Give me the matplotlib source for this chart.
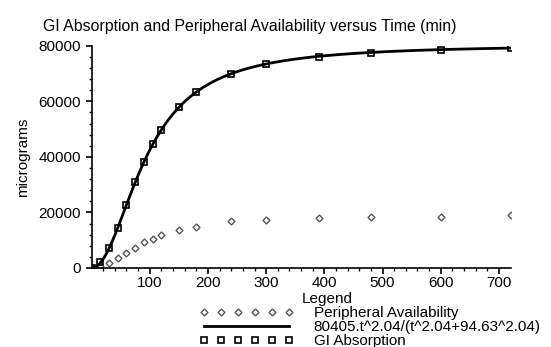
import numpy as np
import matplotlib.pyplot as plt
from matplotlib.lines import Line2D

plt.rcParams['font.family'] = ['Liberation Sans', 'DejaVu Sans']

# sample times (min)
t_gi = [0, 15, 30, 45, 60, 75, 90, 105, 120, 150, 180, 240, 300, 390, 480, 600, 720]
gi_absorption = [0, 2000, 7200, 14500, 22500, 30800, 38200, 44500, 49800,
                 57800, 63300, 69800, 73300, 76000, 77500, 78500, 79000]

t_pa = [0, 15, 30, 45, 60, 75, 90, 105, 120, 150, 180, 240, 300, 390, 480, 600, 720]
peripheral = [0, 700, 1900, 3500, 5500, 7300, 9250, 10450, 11800,
              13600, 14900, 16800, 17200, 18000, 18500, 18500, 19100]

# fitted Hill curve shown in the legend
vmax, n_hill, k50 = 80405, 2.04, 94.63
fit_label = "80405.t^2.04/(t^2.04+94.63^2.04)"

fig = plt.figure(figsize=(5.51, 3.47), dpi=100)
ax = fig.add_axes([0.1662, 0.2277, 0.7605, 0.6406])

tt = np.linspace(0, 720, 400)
fit = vmax * tt**n_hill / (tt**n_hill + k50**n_hill)

ax.plot(t_pa, peripheral, linestyle='none', marker='D', markersize=3.5,
        markerfacecolor='white', markeredgecolor='#555555', markeredgewidth=1)
ax.plot(tt, fit, color='black', linewidth=2)
ax.plot(t_gi, gi_absorption, linestyle='none', marker='s', markersize=5,
        markerfacecolor='none', markeredgecolor='black', markeredgewidth=1.2)

ax.set_xlim(0, 720)
ax.set_ylim(0, 80000)
ax.set_xticks([100, 200, 300, 400, 500, 600, 700])
ax.set_xticks(np.arange(20, 720, 20), minor=True)
ax.set_yticks([0, 20000, 40000, 60000, 80000])
ax.set_yticks(np.arange(4000, 80000, 4000), minor=True)
for s in ['top', 'right']:
    ax.spines[s].set_visible(False)
for s in ['left', 'bottom']:
    ax.spines[s].set_linewidth(1.2)
ax.tick_params(labelsize=11, length=4, width=1.2)
ax.tick_params(axis='x', pad=1.5)
ax.tick_params(which='minor', length=2.5, width=1)
ax.set_ylabel('micrograms', fontsize=11, labelpad=6)

fig.text(250 / 551, 1 - 26 / 347, 'GI Absorption and Peripheral Availability versus Time (min)',
         ha='center', va='center', fontsize=11.4)
fig.text(327 / 551, 1 - 299 / 347, 'Legend', ha='center', va='center', fontsize=11)

handles = [
    Line2D([], [], linestyle='none', marker='D', markersize=3.5, markerfacecolor='white',
           markeredgecolor='#555555', markeredgewidth=1),
    Line2D([], [], color='black', linewidth=2),
    Line2D([], [], linestyle='none', marker='s', markersize=4.5, markerfacecolor='none',
           markeredgecolor='black', markeredgewidth=1.2),
]
labels = ['Peripheral Availability', fit_label, 'GI Absorption']
fig.legend(handles, labels, loc='upper left', bbox_to_anchor=(199 / 551, 1 - 306 / 347),
           frameon=False, numpoints=6, handlelength=6.2, handletextpad=1.3,
           labelspacing=0, fontsize=11, borderpad=0, borderaxespad=0)

fig.savefig('out.png', dpi=100)
